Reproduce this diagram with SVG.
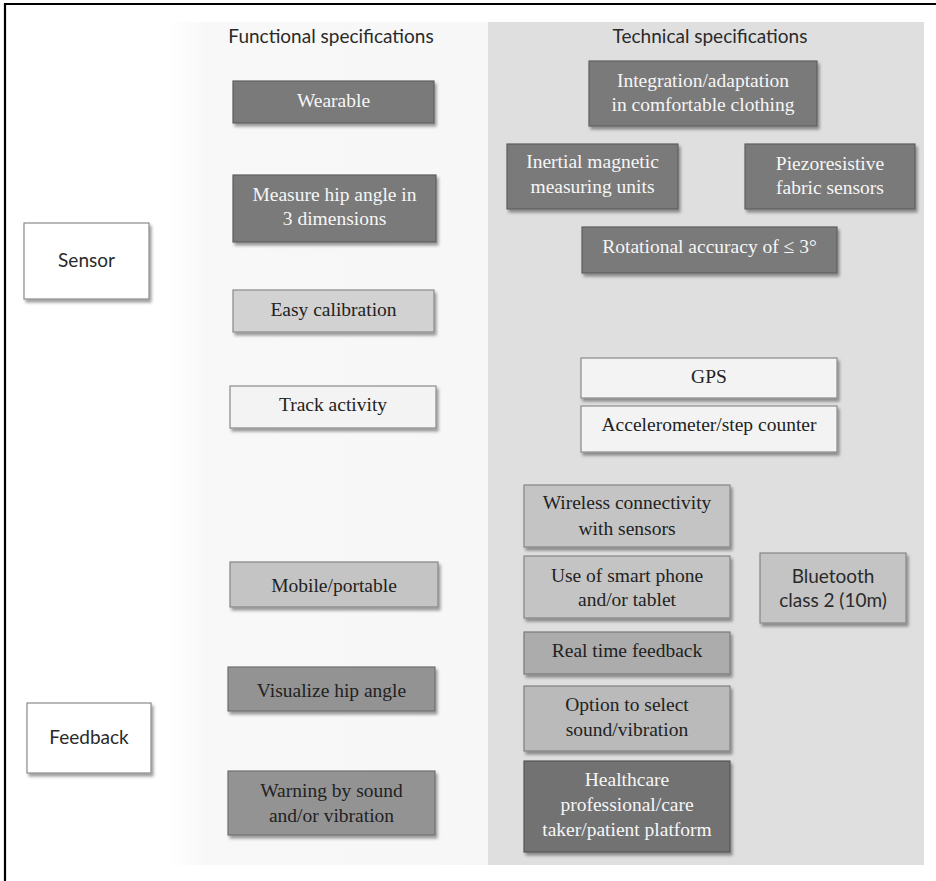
<svg xmlns="http://www.w3.org/2000/svg" width="936" height="881" viewBox="0 0 936 881">
<defs>
<filter id="sh" x="-10%" y="-10%" width="125%" height="140%">
<feDropShadow dx="2" dy="3" stdDeviation="1.8" flood-color="#000" flood-opacity="0.38"/>
</filter>
<linearGradient id="lp" x1="0" y1="0" x2="1" y2="0">
<stop offset="0" stop-color="#ffffff"/>
<stop offset="0.12" stop-color="#f8f8f8"/>
<stop offset="1" stop-color="#f7f7f7"/>
</linearGradient>
<style>
.box{filter:url(#sh);stroke-width:1.2}
.d1{fill:#7a7a7a;stroke:#5e5e5e}
.d2{fill:#939393;stroke:#6e6e6e}
.d3{fill:#acacac;stroke:#7a7a7a}
.d4{fill:#bababa;stroke:#808080}
.d5{fill:#c4c4c4;stroke:#858585}
.d6{fill:#d2d2d2;stroke:#8a8a8a}
.lt{fill:#f3f3f3;stroke:#8a8a8a}
.wh{fill:#ffffff;stroke:#8a8a8a}
.hc{fill:#727272;stroke:#555555}
text{text-anchor:middle}
.s{font-family:"Liberation Serif","Times New Roman",serif;font-size:19.5px}
.ss{font-family:Lato,"Open Sans",sans-serif;font-size:19px;fill:#2a2a2a}
.w{fill:#f6f6f6}
.k{fill:#222222}
</style>
</defs>
<rect width="936" height="881" fill="#ffffff"/>
<path d="M5,881 V4 H936" fill="none" stroke="#000" stroke-width="2.2"/>
<rect x="168" y="22" width="320" height="843" fill="url(#lp)"/>
<rect x="488" y="22" width="436" height="843" fill="#dfdfe0"/>
<g id="headers">
<text class="ss" x="331" y="43">Functional specifications</text>
<text class="ss" x="710" y="43">Technical specifications</text>
</g>
<g id="sensor"><rect class="box wh" x="24" y="223" width="125" height="76"/><text class="ss" x="86.5" y="267">Sensor</text></g>
<g id="feedback"><rect class="box wh" x="27" y="703" width="124" height="70"/><text class="ss" x="89" y="744">Feedback</text></g>
<g id="wearable"><rect class="box d1" x="233" y="81" width="201" height="42"/><text class="s w" x="333.5" y="107">Wearable</text></g>
<g id="measure"><rect class="box d1" x="233" y="175" width="203" height="67"/><text class="s w" x="334.5" y="201">Measure hip angle in</text><text class="s w" x="334.5" y="225">3 dimensions</text></g>
<g id="easy"><rect class="box d6" x="233" y="290" width="201" height="42"/><text class="s k" x="333.5" y="316">Easy calibration</text></g>
<g id="track"><rect class="box lt" x="230" y="386" width="206" height="42"/><text class="s k" x="333" y="411">Track activity</text></g>
<g id="mobile"><rect class="box d5" x="230" y="562" width="208" height="45"/><text class="s k" x="334" y="592">Mobile/portable</text></g>
<g id="visualize"><rect class="box d2" x="228" y="667" width="207" height="44"/><text class="s k" x="331.5" y="697">Visualize hip angle</text></g>
<g id="warning"><rect class="box d2" x="228" y="771" width="207" height="64"/><text class="s k" x="331.5" y="797">Warning by sound</text><text class="s k" x="331.5" y="822">and/or vibration</text></g>
<g id="integration"><rect class="box d1" x="589" y="61" width="228" height="65"/><text class="s w" x="703" y="87">Integration/adaptation</text><text class="s w" x="703" y="111">in comfortable clothing</text></g>
<g id="inertial"><rect class="box d1" x="507" y="144" width="171" height="65"/><text class="s w" x="592.5" y="168">Inertial magnetic</text><text class="s w" x="592.5" y="193">measuring units</text></g>
<g id="piezo"><rect class="box d1" x="745" y="144" width="170" height="65"/><text class="s w" x="830" y="170">Piezoresistive</text><text class="s w" x="830" y="194">fabric sensors</text></g>
<g id="rotational"><rect class="box d1" x="582" y="227" width="255" height="46"/><text class="s w" x="709.5" y="253">Rotational accuracy of ≤ 3°</text></g>
<g id="gps"><rect class="box lt" x="581" y="358" width="256" height="40"/><text class="s k" x="709" y="383">GPS</text></g>
<g id="accel"><rect class="box lt" x="581" y="406" width="256" height="46"/><text class="s k" x="709" y="431">Accelerometer/step counter</text></g>
<g id="wireless"><rect class="box d5" x="524" y="485" width="206" height="62"/><text class="s k" x="627" y="509">Wireless connectivity</text><text class="s k" x="627" y="535">with sensors</text></g>
<g id="smartphone"><rect class="box d5" x="524" y="556" width="206" height="62"/><text class="s k" x="627" y="582">Use of smart phone</text><text class="s k" x="627" y="606">and/or tablet</text></g>
<g id="bluetooth"><rect class="box d5" x="760" y="553" width="146" height="70"/><text class="ss" x="833" y="583">Bluetooth</text><text class="ss" x="833" y="607">class 2 (10m)</text></g>
<g id="realtime"><rect class="box d3" x="524" y="632" width="206" height="42"/><text class="s k" x="627" y="657">Real time feedback</text></g>
<g id="option"><rect class="box d4" x="524" y="686" width="206" height="65"/><text class="s k" x="627" y="711">Option to select</text><text class="s k" x="627" y="736">sound/vibration</text></g>
<g id="healthcare"><rect class="box hc" x="524" y="761" width="206" height="91"/><text class="s w" x="627" y="786">Healthcare</text><text class="s w" x="627" y="811">professional/care</text><text class="s w" x="627" y="836">taker/patient platform</text></g>
</svg>
